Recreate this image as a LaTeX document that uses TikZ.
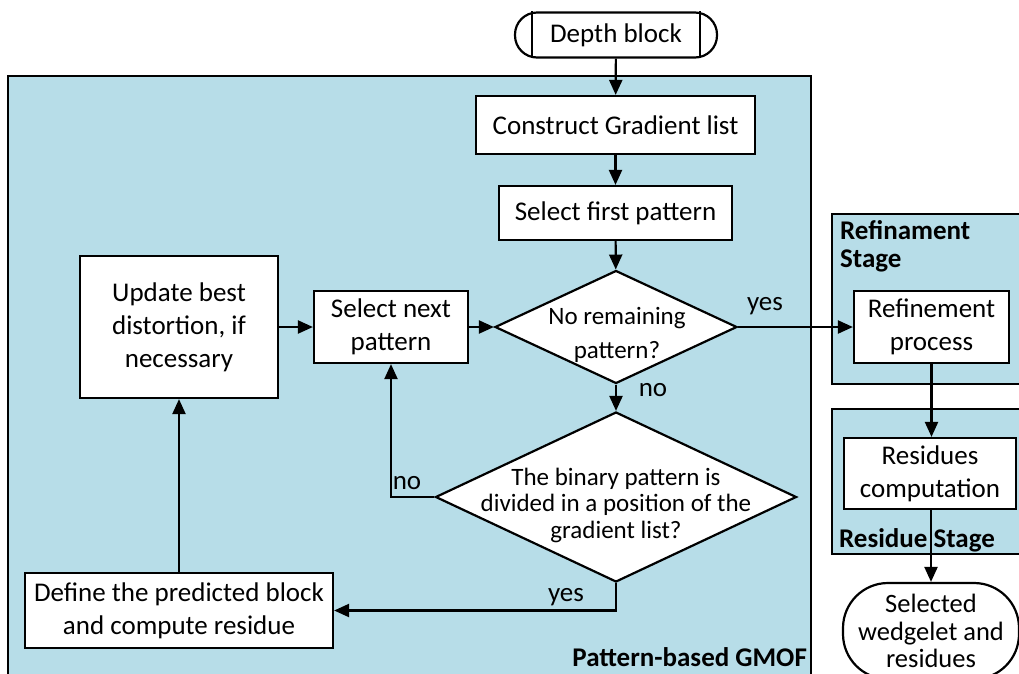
\documentclass[tikz,border=0pt]{standalone}
\usepackage{fontspec}
\setmainfont{Carlito}
\usetikzlibrary{shapes.geometric,arrows.meta}
\definecolor{stage}{RGB}{183,221,232}
\newcommand\figfont{\fontsize{27}{33}\selectfont}
\newcommand\tightfont{\fontsize{26.5}{27.5}\selectfont}
\newcommand\diafont{\fontsize{25}{26.5}\selectfont}
\newcommand\diaonefont{\fontsize{25}{34}\selectfont}
\begin{document}
\begin{tikzpicture}[x=1pt,y=-1pt, line width=2.2pt,
 box/.style={draw, fill=white, align=center, inner sep=0pt, font=\figfont},
 stagebox/.style={draw, fill=stage},
 arr/.style={-{Triangle[length=15pt,width=13pt]}},
 dia/.style={draw, fill=white, shape=diamond, inner sep=0pt},
 lbl/.style={font=\figfont, inner sep=0pt},
 title/.style={font=\figfont\bfseries, inner sep=0pt, align=left}]
\useasboundingbox (0,0) rectangle (1019,673);
\clip (0,0) rectangle (1019,673);
% stage backgrounds
\draw[stagebox] (8,76) rectangle (811,700);
\draw[stagebox] (832,214) rectangle (1040,384);
\draw[stagebox] (832,409) rectangle (1040,554);
% nodes
\node[box, rounded corners=22pt, minimum width=202pt, minimum height=45pt] (db) at (616,35) {Depth block};
\draw (db.north west) ++(18,0) -- ++(0,45);
\draw (db.north east) ++(-18,0) -- ++(0,45);
\node[box, minimum width=279pt, minimum height=58pt] (cgl) at (615.5,125) {Construct Gradient list};
\node[box, minimum width=233pt, minimum height=54pt] (sfp) at (615.5,213) {Select first pattern};
\node[dia, minimum width=242pt, minimum height=113pt, aspect=2.14] (d1) at (616,327) {};
\node[lbl, align=center, font=\diaonefont] (d1t) at (617,335) {No remaining\\pattern?};
\node[box, minimum width=154pt, minimum height=72pt] (snp) at (391,327) {Select next\\pattern};
\node[box, minimum width=198pt, minimum height=142pt] (upd) at (179,327) {Update best\\distortion, if\\necessary};
\node[dia, minimum width=361pt, minimum height=170pt, aspect=2.12] (d2) at (616,497) {};
\node[lbl, align=center, font=\diafont] (d2t) at (616,505) {The binary pattern is\\divided in a position of the\\gradient list?};
\node[box, minimum width=308pt, minimum height=75pt] (def) at (179,610.5) {Define the predicted block\\and compute residue};
\node[box, minimum width=155pt, minimum height=72pt] (ref) at (931.5,327) {Refinement\\process};
\node[box, minimum width=172pt, minimum height=71pt] (res) at (930,473.5) {Residues\\computation};
\node[box, font=\tightfont, rounded corners=45pt, minimum width=176pt, minimum height=96pt] (sel) at (931,631) {Selected\\wedgelet and\\residues};
% stage titles
\node[title, anchor=north west, font=\fontsize{27}{28}\selectfont\bfseries] (t1) at (839,219) {Refinament\\Stage};
\node[title, anchor=west] (t2) at (838,540) {Residue Stage};
\node[title, anchor=east] (t3) at (808,657) {Pattern-based GMOF};
% connectors
\draw[arr] (db) -- (cgl);
\draw[arr] (cgl) -- (sfp);
\draw[arr] (sfp) -- (d1);
\draw[arr] (upd) -- (snp);
\draw[arr] (snp) -- (d1.west);
\draw[arr] (d1.south) -- (d2.north);
\node[lbl] (no1) at (653,390) {no};
\draw[arr] (d1.east) -- (ref.west);
\node[lbl] (yes1) at (765,306) {yes};
\draw[arr] (d2.west) -| (snp.south);
\node[lbl] (no2) at (407,483) {no};
\draw[arr] (d2.south) |- (def.east);
\node[lbl] (yes2) at (566,597) {yes};
\draw[arr] (def) -- (upd);
\draw[arr] (ref.south) -- (ref.south |- res.north);
\draw[arr] (res.south) -- (res.south -| sel.north) -- (sel.north);
\end{tikzpicture}
\end{document}
